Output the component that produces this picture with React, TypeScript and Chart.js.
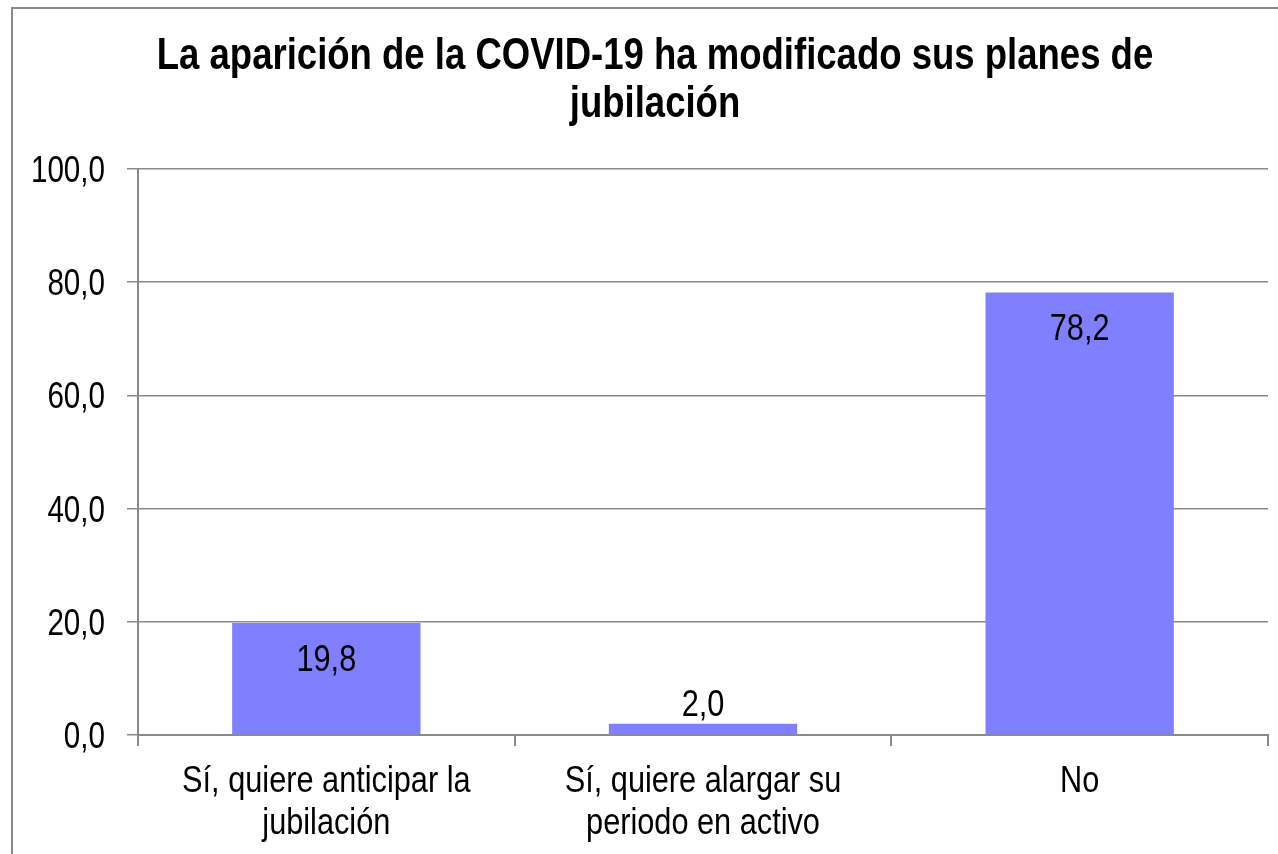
import React, { useEffect, useRef } from "react";
import { Chart, registerables } from "chart.js";

Chart.register(...registerables);

const titleLines = ["La aparición de la COVID-19 ha modificado sus planes de", "jubilación"];
const categories = [
  ["Sí, quiere anticipar la", "jubilación"],
  ["Sí, quiere alargar su", "periodo en activo"],
  ["No"],
];
const values = [19.8, 2.0, 78.2];
const yMin = 0;
const yMax = 100;
const yStep = 20;

const FONT = "'Liberation Sans', Arial, sans-serif";
const SX = 0.83;
const fmt = (v: number) => v.toFixed(1).replace(".", ",");

function narrow(ctx: CanvasRenderingContext2D, text: string, x: number, y: number, align: CanvasTextAlign, font: string, sx: number = SX) {
  ctx.save();
  ctx.translate(x, y);
  ctx.scale(sx, 1);
  ctx.font = font;
  ctx.fillStyle = "#000";
  ctx.textAlign = align;
  ctx.textBaseline = "alphabetic";
  ctx.fillText(text, 0, 0);
  ctx.restore();
}

export default function App() {
  const ref = useRef<HTMLCanvasElement | null>(null);
  useEffect(() => {
    const canvas = ref.current;
    if (!canvas) return;
    const framePlugin = {
      id: "frame",
      beforeDraw(chart: any) {
        const ctx = chart.ctx;
        ctx.save();
        ctx.fillStyle = "#ffffff";
        ctx.fillRect(0, 0, chart.width, chart.height);
        ctx.strokeStyle = "#8a8a8a";
        ctx.lineWidth = 2;
        ctx.strokeRect(12, 8, 1400, 1000);
        ctx.restore();
        titleLines.forEach((l, i) => narrow(ctx, l, 655, 69 + i * 48, "center", `bold 44px ${FONT}`));
      },
    };
    const textPlugin = {
      id: "texts",
      afterDraw(chart: any) {
        const ctx = chart.ctx;
        const ys = chart.scales.y;
        const xs = chart.scales.x;
        for (let v = yMin; v <= yMax; v += yStep) {
          const py = ys.getPixelForValue(v);
          narrow(ctx, fmt(v), 105, py + 13, "right", `37px ${FONT}`, 0.8);
        }
        categories.forEach((lines, i) => {
          const px = xs.getPixelForValue(i);
          lines.forEach((l, j) => narrow(ctx, l, px, 792 + j * 42, "center", `37px ${FONT}`));
        });
        const meta = chart.getDatasetMeta(0);
        meta.data.forEach((bar: any, i: number) => {
          const h = bar.base - bar.y;
          const cy = h > 60 ? bar.y + 35 : bar.y - 21;
          narrow(ctx, fmt(values[i]), bar.x, cy + 13, "center", `37px ${FONT}`);
        });
      },
    };
    const chart = new Chart(canvas, {
      type: "bar",
      data: {
        labels: categories.map((c) => c.join(" ")),
        datasets: [
          {
            data: values,
            backgroundColor: "#7f7fff",
            borderWidth: 0,
            categoryPercentage: 1,
            barPercentage: 0.5,
          },
        ],
      },
      options: {
        responsive: false,
        animation: false,
        layout: { padding: { top: 169, right: 10, left: 0, bottom: 0 } },
        plugins: {
          legend: { display: false },
          title: { display: false },
          tooltip: { enabled: false },
        },
        scales: {
          x: {
            offset: true,
            grid: {
              display: true,
              drawOnChartArea: false,
              drawTicks: true,
              tickLength: 11,
              color: "#8a8a8a",
              lineWidth: 2,
            },
            border: { display: true, color: "#8a8a8a", width: 2 },
            ticks: { display: false },
            afterFit(scale: any) {
              scale.height = 854 - 735;
            },
          },
          y: {
            min: yMin,
            max: yMax,
            ticks: { stepSize: yStep, display: false },
            grid: {
              color: "#8a8a8a",
              lineWidth: 1.5,
              tickLength: 11,
            },
            border: { display: true, color: "#8a8a8a", width: 2 },
            afterFit(scale: any) {
              scale.width = 138;
            },
          },
        },
      },
      plugins: [framePlugin, textPlugin],
    });
    return () => chart.destroy();
  }, []);
  return (
    <div style={{ position: "fixed", left: 0, top: 0, width: 1278, height: 854 }}>
      <canvas ref={ref} width={1278} height={854} style={{ width: 1278, height: 854, display: "block" }} />
    </div>
  );
}
